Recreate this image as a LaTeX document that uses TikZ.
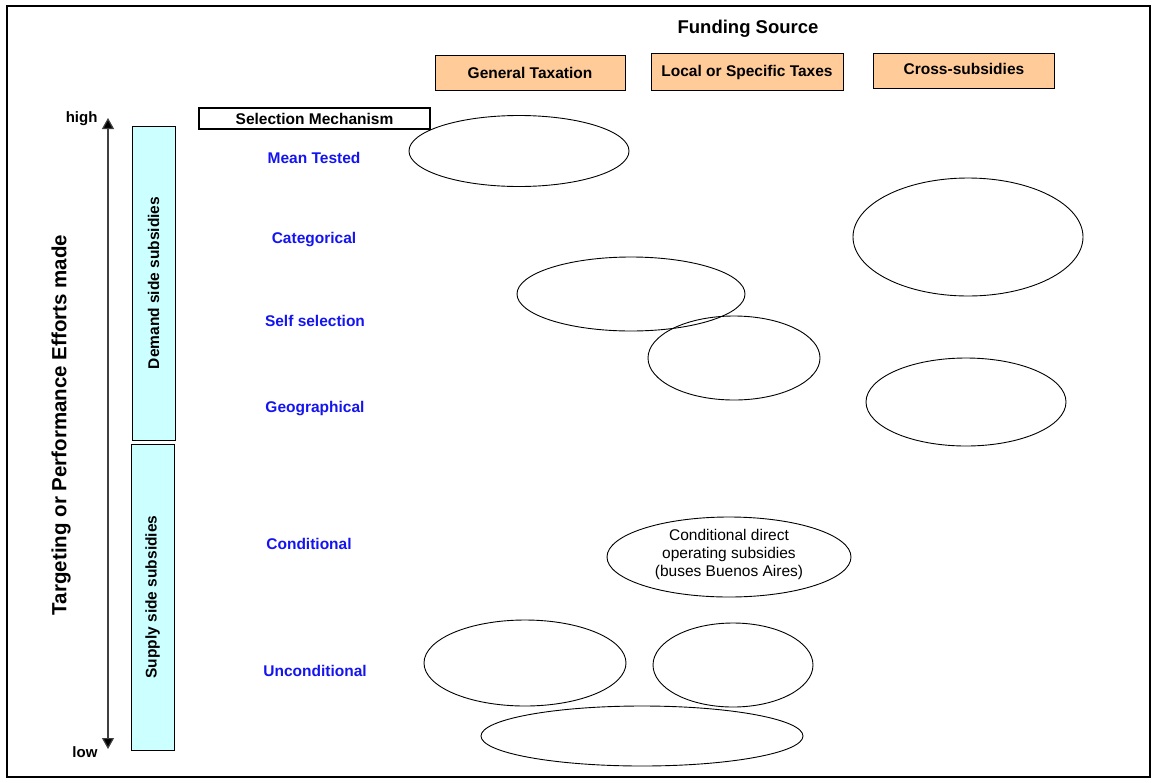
\documentclass[tikz,border=0pt]{standalone}
\usepackage{fontspec}
\setmainfont{Liberation Sans}
\usetikzlibrary{shapes.geometric,arrows.meta}
\definecolor{orangebox}{RGB}{255,204,153}
\definecolor{cyanbox}{RGB}{204,255,255}
\definecolor{labelblue}{RGB}{20,20,240}
\begin{document}
\begin{tikzpicture}[x=1pt,y=-1pt,
  ell/.style={draw,ellipse,line width=0.9pt,inner sep=0pt},
  fundbox/.style={draw,fill=orangebox,line width=0.9pt,inner sep=0pt,font=\fontsize{15.5}{18}\selectfont\bfseries},
  sidebox/.style={draw,fill=cyanbox,line width=0.9pt,inner sep=0pt},
  sidetext/.style={rotate=90,font=\fontsize{15.5}{18}\selectfont\bfseries},
  mech/.style={text=labelblue,font=\fontsize{15.5}{18}\selectfont\bfseries},
  axislbl/.style={font=\fontsize{15}{18}\selectfont\bfseries}]
\useasboundingbox (0,0) rectangle (1156,782);
\draw[line width=1.8pt] (7,6) rectangle (1150,777);

\node[font=\fontsize{18.5}{21}\selectfont\bfseries] (fs) at (748,29) {Funding Source};
\node[fundbox,minimum width=190pt,minimum height=35pt] (gt) at (530,73) {General Taxation};
\node[fundbox,minimum width=192pt,minimum height=37pt] (lt) at (747,72) {Local or Specific Taxes};
\node[fundbox,minimum width=181pt,minimum height=35pt,anchor=north west] (cs) at (873,53) {\raisebox{5pt}{Cross-subsidies}};

\node[draw,line width=1.8pt,minimum width=231pt,minimum height=21pt,inner sep=0pt,font=\fontsize{15.5}{18}\selectfont\bfseries] (sm) at (314.5,118.5) {Selection Mechanism};

\coordinate (atop) at (108,118);
\coordinate (abot) at (108,749);
\draw[line width=1.2pt,draw=black!75,{Triangle[width=12pt,length=11pt,fill=black]}-{Triangle[width=12pt,length=11pt,fill=black]}] (atop) -- (abot);
\node[axislbl,anchor=east] (high) at (101,119) {high};
\node[axislbl,anchor=east] (low) at (101,752) {low};

\node[font=\fontsize{20.5}{24}\selectfont\bfseries,rotate=90] (axt) at (61,425) {Targeting or Performance Efforts made};

\node[sidebox,minimum width=43pt,minimum height=314pt] (dem) at (153.5,283) {};
\node[sidetext] (demt) at (dem.center) {Demand side subsidies};
\node[sidebox,minimum width=43pt,minimum height=306pt] (sup) at (152.5,597) {};
\node[sidetext] (supt) at (sup.center) {Supply side subsidies};

\node[mech] (m1) at (314,158) {Mean Tested};
\node[mech] (m2) at (314,240) {Categorical};
\node[mech] (m3) at (315,321) {Self selection};
\node[mech] (m4) at (315,409) {Geographical};
\node[mech] (m5) at (309,544) {Conditional};
\node[mech] (m6) at (315,671) {Unconditional};

\node[ell,minimum width=220pt,minimum height=71pt] (e1) at (519,151) {};
\node[ell,minimum width=230pt,minimum height=118pt] (e2) at (968,237) {};
\node[ell,minimum width=228pt,minimum height=74pt] (e3) at (631,294) {};
\node[ell,minimum width=172pt,minimum height=84pt] (e4) at (734,358) {};
\node[ell,minimum width=200pt,minimum height=88pt] (e5) at (966,402) {};
\node[ell,minimum width=244pt,minimum height=80pt] (e6) at (729,557) {};
\node[align=center,font=\fontsize{15.5}{18}\selectfont] (e6t) at (729,554) {Conditional direct\\operating subsidies\\(buses Buenos Aires)};
\node[ell,minimum width=202pt,minimum height=86pt] (e7) at (525,663) {};
\node[ell,minimum width=160pt,minimum height=84pt] (e8) at (733,665) {};
\node[ell,minimum width=322pt,minimum height=60pt] (e9) at (642,736) {};
\end{tikzpicture}
\end{document}
